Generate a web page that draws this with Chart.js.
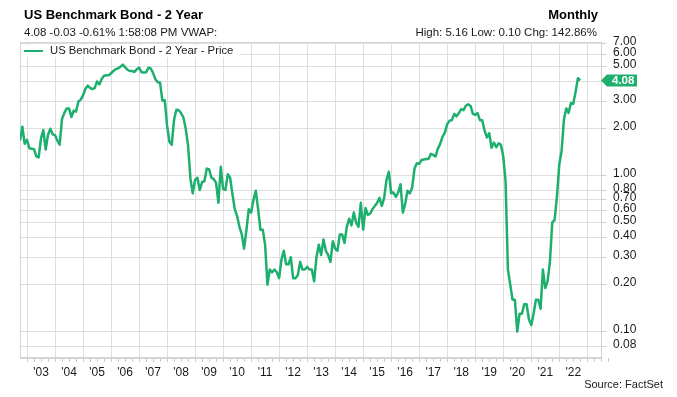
<!DOCTYPE html>
<html>
<head>
<meta charset="utf-8">
<title>US Benchmark Bond - 2 Year</title>
<script src="https://cdn.jsdelivr.net/npm/chart.js@4.4.1/dist/chart.umd.min.js"></script>
<style>
    html, body { margin: 0; padding: 0; background: #fff; }
    #wrap {
        position: relative;
        width: 677px;
        height: 397px;
        overflow: hidden;
        font-family: "Liberation Sans", Arial, sans-serif;
        color: #111;
    }
    #chart { position: absolute; left: 0; top: 0; }
    .txt { position: absolute; white-space: nowrap; }
    #title { left: 24px; top: 8px; font-size: 13px; line-height: 13px; font-weight: bold; color: #000; }
    #quote { left: 24px; top: 27px; font-size: 11.5px; line-height: 11.5px; color: #1a1a1a; }
    #freq { right: 79px; top: 8px; font-size: 13px; line-height: 13px; font-weight: bold; color: #000; }
    #stats { right: 80px; top: 27px; font-size: 11.5px; line-height: 11.5px; color: #1a1a1a; }
    #legend {
        position: absolute;
        left: 21px;
        top: 44.5px;
        width: 219px;
        height: 12.5px;
        background: #fff;
    }
    #legend .swatch {
        position: absolute;
        left: 2.5px;
        top: 5px;
        width: 19.5px;
        height: 2.5px;
    }
    #legend .label { left: 29px; top: 0.9px; font-size: 11.3px; line-height: 11.3px; color: #1a1a1a; }
    #source { right: 14px; top: 379px; font-size: 11px; line-height: 11px; color: #1a1a1a; }
</style>
</head>
<body>
<div id="wrap">
    <canvas id="chart" width="677" height="397"></canvas>
    <div class="txt" id="title"></div>
    <div class="txt" id="quote"></div>
    <div class="txt" id="freq"></div>
    <div class="txt" id="stats"></div>
    <div id="legend"><span class="swatch"></span><span class="txt label"></span></div>
    <div class="txt" id="source"></div>
</div>
<script>
// US 2 year benchmark yield, monthly closes (Oct 2002 - Oct 2022)
const firstMonth = 2002 + 9 / 12;   // Oct 2002

const y2002 = [1.68, 2.06, 1.60];   // Oct-Dec
const y2003 = [1.70, 1.50, 1.49, 1.48, 1.33, 1.31, 1.74, 1.96, 1.47, 1.83, 2.00, 1.84];
const y2004 = [1.82, 1.68, 1.58, 2.31, 2.53, 2.70, 2.70, 2.38, 2.61, 2.58, 2.99, 3.07];
const y2005 = [3.27, 3.60, 3.78, 3.66, 3.59, 3.64, 4.02, 3.85, 4.17, 4.38, 4.41, 4.40];
const y2006 = [4.54, 4.69, 4.82, 4.87, 4.99, 5.16, 4.97, 4.78, 4.69, 4.70, 4.62, 4.81];
const y2007 = [4.93, 4.62, 4.58, 4.60, 4.92, 4.87, 4.56, 4.15, 3.97, 3.94, 3.03, 3.05];
const y2008 = [2.10, 1.65, 1.58, 2.29, 2.65, 2.63, 2.52, 2.36, 2.00, 1.56, 0.96, 0.77];
const y2009 = [0.94, 0.97, 0.81, 0.91, 0.92, 1.11, 1.10, 0.97, 0.95, 0.90, 0.67, 1.14];
const y2010 = [0.82, 0.81, 1.02, 0.97, 0.76, 0.61, 0.55, 0.47, 0.42, 0.34, 0.45, 0.61];
const y2011 = [0.58, 0.70, 0.80, 0.61, 0.45, 0.45, 0.36, 0.20, 0.25, 0.24, 0.25, 0.24];
const y2012 = [0.22, 0.29, 0.33, 0.27, 0.27, 0.30, 0.22, 0.22, 0.23, 0.28, 0.25, 0.25];
const y2013 = [0.26, 0.25, 0.25, 0.21, 0.30, 0.36, 0.31, 0.39, 0.33, 0.31, 0.28, 0.38];
const y2014 = [0.34, 0.33, 0.42, 0.42, 0.37, 0.47, 0.53, 0.48, 0.58, 0.50, 0.47, 0.67];
const y2015 = [0.45, 0.62, 0.56, 0.57, 0.61, 0.64, 0.67, 0.72, 0.64, 0.72, 0.94, 1.06];
const y2016 = [0.77, 0.78, 0.73, 0.78, 0.88, 0.58, 0.66, 0.80, 0.77, 0.84, 1.11, 1.20];
const y2017 = [1.19, 1.26, 1.27, 1.28, 1.28, 1.38, 1.36, 1.33, 1.49, 1.60, 1.78, 1.89];
const y2018 = [2.14, 2.25, 2.27, 2.49, 2.40, 2.52, 2.67, 2.63, 2.81, 2.87, 2.80, 2.49];
const y2019 = [2.46, 2.52, 2.27, 2.27, 1.95, 1.76, 1.87, 1.51, 1.63, 1.52, 1.61, 1.58];
const y2020 = [1.33, 0.92, 0.25, 0.20, 0.16, 0.16, 0.10, 0.13, 0.13, 0.15, 0.15, 0.12];
const y2021 = [0.11, 0.13, 0.16, 0.16, 0.14, 0.25, 0.19, 0.21, 0.28, 0.50, 0.52, 0.73];
const y2022 = [1.18, 1.44, 2.28, 2.70, 2.53, 2.92, 2.89, 3.45, 4.22, 4.08];   // Jan-Oct

// axis ticks
const yTickValues = [7, 6, 5, 4, 3, 2, 1, 0.8, 0.7, 0.6, 0.5, 0.4, 0.3, 0.2, 0.1, 0.08];
const yearTicks = [2003, 2004, 2005, 2006, 2007, 2008, 2009, 2010, 2011, 2012,
                   2013, 2014, 2015, 2016, 2017, 2018, 2019, 2020, 2021, 2022, 2023];
const yearLabels = ["'03", "'04", "'05", "'06", "'07", "'08", "'09", "'10", "'11", "'12",
                    "'13", "'14", "'15", "'16", "'17", "'18", "'19", "'20", "'21", "'22"];

// header texts
const titleText = 'US Benchmark Bond - 2 Year';
const quoteText = '4.08 -0.03 -0.61% 1:58:08 PM VWAP:';
const freqText = 'Monthly';
const statsText = 'High: 5.16 Low: 0.10 Chg: 142.86%';
const seriesName = 'US Benchmark Bond - 2 Year - Price';
const sourceText = 'Source: FactSet';

const LINE_COLOR = '#1daf6e';
const GRID_COLOR = '#dedede';
const FONT = '"Liberation Sans", Arial, sans-serif';

const prices = [].concat(y2002, y2003, y2004, y2005, y2006, y2007, y2008, y2009, y2010, y2011,
    y2012, y2013, y2014, y2015, y2016, y2017, y2018, y2019, y2020, y2021, y2022);
const points = prices.map((v, i) => ({ x: firstMonth + i / 12, y: v }));
const lastPrice = prices[prices.length - 1];

// fill in the html texts
document.getElementById('title').textContent = titleText;
document.getElementById('quote').textContent = quoteText;
document.getElementById('freq').textContent = freqText;
document.getElementById('stats').textContent = statsText;
document.querySelector('#legend .label').textContent = seriesName;
document.querySelector('#legend .swatch').style.background = LINE_COLOR;
document.getElementById('source').textContent = sourceText;

// x ticks every quarter: year lines get a grid line, mid-year gets the label
const quarterTicks = [];
yearTicks.forEach(yr => {
    [0, 0.25, 0.5, 0.75].forEach(q => quarterTicks.push(yr + q));
});

// light box around the plot
const plotBox = {
    id: 'plotBox',
    beforeDatasetsDraw(chart) {
        const { ctx, chartArea } = chart;
        ctx.save();
        ctx.strokeStyle = '#d4d4d4';
        ctx.lineWidth = 1;
        ctx.strokeRect(Math.round(chartArea.left) + 0.5, Math.round(chartArea.top) + 0.5,
            Math.round(chartArea.right - chartArea.left), Math.round(chartArea.bottom - chartArea.top));
        ctx.restore();
    }
};

// green tag with the last value on the right axis
const lastValueTag = {
    id: 'lastValueTag',
    afterDraw(chart) {
        const { ctx, chartArea } = chart;
        const y = chart.scales.y.getPixelForValue(lastPrice);
        const x0 = chartArea.right;
        ctx.save();
        ctx.fillStyle = LINE_COLOR;
        ctx.beginPath();
        ctx.moveTo(x0, y);
        ctx.lineTo(x0 + 6, y - 6);
        ctx.lineTo(x0 + 36, y - 6);
        ctx.lineTo(x0 + 36, y + 6);
        ctx.lineTo(x0 + 6, y + 6);
        ctx.closePath();
        ctx.fill();
        ctx.fillStyle = '#fff';
        ctx.font = 'bold 11.5px ' + FONT;
        ctx.textAlign = 'left';
        ctx.textBaseline = 'middle';
        ctx.fillText(lastPrice.toFixed(2), x0 + 11, y + 0.5);
        ctx.restore();
    }
};

Chart.defaults.font.family = FONT;
Chart.defaults.color = '#1a1a1a';

new Chart(document.getElementById('chart'), {
    type: 'line',
    data: {
        datasets: [{
            label: seriesName,
            data: points,
            borderColor: LINE_COLOR,
            borderWidth: 2.5,
            borderJoinStyle: 'round',
            pointRadius: 0,
            tension: 0,
            fill: false
        }]
    },
    options: {
        responsive: false,
        animation: false,
        devicePixelRatio: 1,
        layout: { padding: { left: 20, top: 42, right: 0, bottom: 0 } },
        plugins: {
            legend: { display: false },
            tooltip: { enabled: false }
        },
        scales: {
            x: {
                type: 'linear',
                min: firstMonth,
                max: 2023.49,
                afterBuildTicks: scale => { scale.ticks = quarterTicks.map(v => ({ value: v })); },
                afterFit: scale => { scale.height = 39.3; },
                border: { color: '#d4d4d4' },
                grid: {
                    color: c => (c.tick && Number.isInteger(c.tick.value)) ? GRID_COLOR : 'rgba(0,0,0,0)',
                    tickColor: '#c4c4c4',
                    tickLength: 4
                },
                ticks: {
                    autoSkip: false,
                    maxRotation: 0,
                    padding: 4,
                    font: { size: 12 },
                    color: '#1a1a1a',
                    callback: value => {
                        if (value % 1 !== 0.5) return '';
                        const idx = yearTicks.indexOf(Math.floor(value));
                        return yearLabels[idx] || '';
                    }
                }
            },
            y: {
                type: 'logarithmic',
                position: 'right',
                min: 0.068,
                max: 7.2,
                afterBuildTicks: scale => { scale.ticks = yTickValues.map(v => ({ value: v })); },
                afterFit: scale => { scale.width = 76; },
                border: { color: '#d4d4d4' },
                grid: {
                    color: GRID_COLOR,
                    tickColor: '#cfcfcf',
                    tickLength: 5
                },
                ticks: {
                    autoSkip: false,
                    padding: 7,
                    labelOffset: -2,
                    font: { size: 12 },
                    color: '#1a1a1a',
                    callback: value => value === 4 ? '' : Number(value).toFixed(2)
                }
            }
        }
    },
    plugins: [plotBox, lastValueTag]
});
</script>
</body>
</html>
